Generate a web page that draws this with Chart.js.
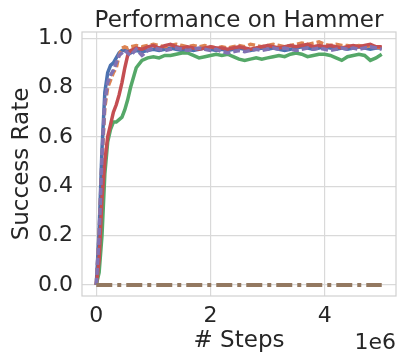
<!DOCTYPE html>
<html>
<head>
<meta charset="utf-8">
<script src="https://cdn.jsdelivr.net/npm/chart.js@4/dist/chart.umd.min.js"></script>
<style>
  html, body { margin: 0; padding: 0; background: #fff; }
</style>
</head>
<body>
<canvas id="perf" width="398" height="353"></canvas>
<script>
// steps in millions
const steps = [0, 0.05, 0.1, 0.15, 0.2, 0.25, 0.3, 0.35, 0.4, 0.45, 0.5, 0.55, 0.6,
  0.7, 0.8, 0.9, 1.0, 1.1, 1.2, 1.3, 1.4, 1.5, 1.6, 1.7, 1.8, 1.9, 2.0,
  2.1, 2.2, 2.3, 2.4, 2.5, 2.6, 2.7, 2.8, 2.9, 3.0, 3.1, 3.2, 3.3, 3.4,
  3.5, 3.6, 3.7, 3.8, 3.9, 4.0, 4.1, 4.2, 4.3, 4.4, 4.5, 4.6, 4.7, 4.8, 4.9, 5.0];

const blue = [0, 0.22, 0.55, 0.78, 0.86, 0.89, 0.9, 0.92, 0.94, 0.95, 0.95, 0.95, 0.94,
  0.95, 0.945, 0.95, 0.955, 0.95, 0.955, 0.96, 0.955, 0.95, 0.955, 0.95, 0.955, 0.96, 0.955,
  0.95, 0.955, 0.95, 0.955, 0.96, 0.955, 0.95, 0.955, 0.96, 0.955, 0.96, 0.955, 0.95, 0.955,
  0.96, 0.965, 0.96, 0.955, 0.96, 0.965, 0.96, 0.955, 0.96, 0.955, 0.96, 0.965, 0.96, 0.955, 0.96, 0.96];

const orange = [0, 0.2, 0.5, 0.72, 0.8, 0.83, 0.86, 0.88, 0.93, 0.96, 0.965, 0.96, 0.965,
  0.97, 0.965, 0.97, 0.975, 0.97, 0.965, 0.97, 0.975, 0.97, 0.965, 0.97, 0.965, 0.97, 0.965,
  0.96, 0.965, 0.96, 0.965, 0.97, 0.965, 0.975, 0.97, 0.965, 0.97, 0.975, 0.97, 0.965, 0.97,
  0.975, 0.98, 0.975, 0.98, 0.985, 0.975, 0.97, 0.975, 0.97, 0.97, 0.965, 0.97, 0.965, 0.97, 0.965, 0.96];

const green = [0, 0.05, 0.2, 0.45, 0.58, 0.63, 0.66, 0.66, 0.67, 0.68, 0.71, 0.75, 0.8,
  0.88, 0.91, 0.92, 0.925, 0.92, 0.93, 0.93, 0.935, 0.94, 0.94, 0.93, 0.92, 0.925, 0.93,
  0.935, 0.93, 0.935, 0.925, 0.915, 0.91, 0.915, 0.92, 0.915, 0.92, 0.925, 0.93, 0.925, 0.935,
  0.94, 0.935, 0.925, 0.93, 0.935, 0.935, 0.93, 0.92, 0.91, 0.925, 0.93, 0.935, 0.93, 0.91, 0.92, 0.935];

const red = [0, 0.1, 0.35, 0.5, 0.6, 0.65, 0.7, 0.73, 0.77, 0.82, 0.88, 0.93, 0.95,
  0.96, 0.955, 0.965, 0.97, 0.96, 0.97, 0.975, 0.965, 0.96, 0.965, 0.96, 0.955, 0.96, 0.965,
  0.96, 0.96, 0.955, 0.96, 0.965, 0.96, 0.955, 0.96, 0.965, 0.97, 0.965, 0.96, 0.965, 0.97,
  0.965, 0.97, 0.975, 0.965, 0.97, 0.965, 0.97, 0.965, 0.96, 0.965, 0.97, 0.965, 0.97, 0.975, 0.965, 0.965];

const purple = [0, 0.2, 0.52, 0.74, 0.82, 0.85, 0.87, 0.9, 0.93, 0.94, 0.95, 0.94, 0.93,
  0.955, 0.93, 0.95, 0.96, 0.955, 0.95, 0.955, 0.96, 0.955, 0.95, 0.955, 0.96, 0.955, 0.95,
  0.955, 0.945, 0.94, 0.945, 0.95, 0.945, 0.95, 0.955, 0.95, 0.955, 0.96, 0.955, 0.96, 0.955,
  0.95, 0.955, 0.96, 0.955, 0.96, 0.955, 0.95, 0.955, 0.96, 0.955, 0.96, 0.955, 0.96, 0.965, 0.96, 0.955];

const brownSteps = [0, 5.0];
const brown = [0, 0];

const yTicks = [0, 0.2, 0.4, 0.6, 0.8, 1.0];
const xTicks = [0, 2, 4];

const pts = (xs, ys) => xs.map((x, i) => ({ x: x * 1e6, y: ys[i] }));
const FONT = "'DejaVu Sans', sans-serif";
const INK = "#262626";

function line(label, xs, ys, color, order, dash, width) {
  return {
    label: label,
    data: pts(xs, ys),
    borderColor: color,
    backgroundColor: color,
    borderWidth: width || 3.5,
    borderDash: dash || [],
    borderCapStyle: "butt",
    pointRadius: 0,
    tension: 0,
    fill: false,
    order: order
  };
}

const frame = {
  id: "frame",
  beforeDatasetsDraw(chart) {
    const a = chart.chartArea, ctx = chart.ctx;
    ctx.save();
    ctx.strokeStyle = "#d0d0d0";
    ctx.lineWidth = 1.2;
    ctx.strokeRect(a.left, a.top, a.right - a.left, a.bottom - a.top);
    ctx.restore();
  },
  afterDraw(chart) {
    const a = chart.chartArea, ctx = chart.ctx;
    ctx.save();
    ctx.fillStyle = INK;
    ctx.font = "23px " + FONT;
    ctx.textAlign = "center";
    ctx.textBaseline = "alphabetic";
    ctx.fillText("Performance on Hammer", (a.left + a.right) / 2, 27);
    ctx.textAlign = "right";
    ctx.font = "22px " + FONT;
    ctx.fillText("1e6", 396, 349);
    ctx.restore();
  }
};

new Chart(document.getElementById("perf"), {
  type: "line",
  data: {
    datasets: [
      line("blue", steps, blue, "#4C72B0", 5),
      line("orange", steps, orange, "#DD8452", 4, [7, 3]),
      line("green", steps, green, "#55A868", 3),
      line("red", steps, red, "#C44E52", 2),
      line("purple", steps, purple, "#8172B3", 1, [7, 3]),
      line("brown", brownSteps, brown, "#937860", 0, [16, 5, 4, 5], 4)
    ]
  },
  options: {
    responsive: false,
    animation: false,
    layout: { padding: { top: 32, right: 2, left: 0, bottom: 0 } },
    plugins: {
      legend: { display: false },
      title: { display: false },
      tooltip: { enabled: false }
    },
    scales: {
      x: {
        type: "linear",
        min: -0.25e6,
        max: 5.25e6,
        afterBuildTicks: s => { s.ticks = xTicks.map(v => ({ value: v * 1e6 })); },
        afterFit: s => { s.height = 57; },
        grid: { color: "#d9d9d9", lineWidth: 1.2, drawTicks: false },
        border: { display: false },
        ticks: {
          padding: 7,
          color: INK,
          font: { family: FONT, size: 22 },
          callback: v => String(v / 1e6)
        },
        title: {
          display: true,
          text: "# Steps",
          color: INK,
          font: { family: FONT, size: 23 },
          padding: { top: 0, bottom: -2 }
        }
      },
      y: {
        min: -0.045,
        max: 1.025,
        afterBuildTicks: s => { s.ticks = yTicks.map(v => ({ value: v })); },
        afterFit: s => { s.width = 82; },
        grid: { color: "#d9d9d9", lineWidth: 1.2, drawTicks: false },
        border: { display: false },
        ticks: {
          padding: 9,
          color: INK,
          font: { family: FONT, size: 22 },
          callback: v => v.toFixed(1)
        },
        title: {
          display: true,
          text: "Success Rate",
          color: INK,
          font: { family: FONT, size: 23 },
          padding: { top: 8, bottom: 0 }
        }
      }
    }
  },
  plugins: [frame]
});
</script>
</body>
</html>
